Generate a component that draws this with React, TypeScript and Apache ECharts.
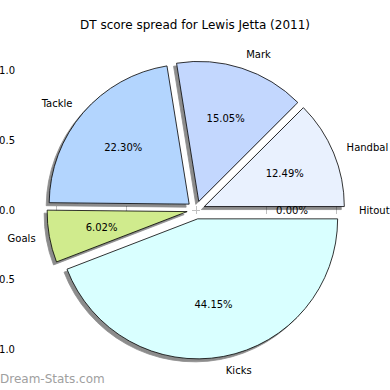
import React, { useEffect, useRef } from "react";
import * as echarts from "echarts";

const titleText = "DT score spread for Lewis Jetta (2011)";
const categories = ["Handbal", "Mark", "Tackle", "Goals", "Kicks", "Hitout"];
const values = [12.49, 15.05, 22.3, 6.02, 44.15, 0.0];
const sliceColors = ["#e9f1fe", "#c3d7fe", "#b3d5fe", "#d0eb8d", "#d9ffff", "#f0f0f0"];
const tickValues = [-1, -0.5, 0, 0.5, 1];

const FONT = "DejaVu Sans";

const fmtTick = (v: number) => {
  const s = Math.abs(v).toFixed(1);
  return v < 0 ? "\u2212" + s : s;
};

export default function App() {
  const ref = useRef<HTMLDivElement>(null);
  useEffect(() => {
    if (!ref.current) return;
    const chart = echarts.init(ref.current, null, { renderer: "svg" });

    const axisCommon = (pos: string, showLabel: boolean, isX: boolean) => ({
      type: "value",
      position: pos,
      min: isX ? -1.22 : -1.23,
      max: isX ? 1.22 : 1.23,
      axisLine: { show: false },
      splitLine: { show: false },
      axisTick: {
        show: true,
        inside: false,
        length: 4,
        lineStyle: { color: "#c0c0c0", width: 1 },
        customValues: tickValues,
      },
      axisLabel: {
        show: showLabel,
        customValues: tickValues,
        formatter: (v: number) => fmtTick(v),
        fontSize: 10,
        fontFamily: FONT,
        color: "#000",
        margin: isX ? 7 : 10,
      },
    });

    const mainData = categories.map((name, i) => ({
      name,
      value: values[i],
      selected: true,
      itemStyle: { color: sliceColors[i] },
    }));
    const labelData = categories.map((name, i) => ({
      name,
      value: values[i],
      selected: true,
    }));

    chart.setOption({
      animation: false,
      title: {
        text: titleText,
        left: "center",
        top: 19,
        padding: 0,
        textStyle: { fontSize: 12, fontWeight: "normal", color: "#000", fontFamily: FONT },
      },
      grid: {
        left: 25,
        right: 23,
        top: 38,
        bottom: 8,
        containLabel: false,
        outerBoundsMode: "none",
      },
      xAxis: [axisCommon("bottom", true, true), axisCommon("top", false, true)],
      yAxis: [axisCommon("left", true, false), axisCommon("right", false, false)],
      graphic: [
        {
          type: "text",
          left: 0,
          top: 373,
          style: {
            text: "Dream-Stats.com",
            fontSize: 12,
            fontFamily: FONT,
            fill: "#a0a0a0",
          },
        },
      ],
      series: [
        {
          type: "pie",
          center: [196, 210],
          radius: [0, 140],
          startAngle: 0,
          clockwise: false,
          selectedMode: "multiple",
          selectedOffset: 9,
          avoidLabelOverlap: false,
          minShowLabelAngle: 0,
          silent: true,
          emphasis: { disabled: true },
          itemStyle: {
            borderColor: "#000",
            borderWidth: 0.8,
            shadowBlur: 0,
            shadowOffsetX: -3,
            shadowOffsetY: 3,
            shadowColor: "rgba(0,0,0,0.45)",
          },
          select: {
            itemStyle: {
              borderColor: "#000",
              borderWidth: 0.8,
              shadowBlur: 0,
              shadowOffsetX: -3,
              shadowOffsetY: 3,
              shadowColor: "rgba(0,0,0,0.45)",
            },
          },
          label: {
            show: true,
            position: "outside",
            formatter: "{b}",
            fontSize: 10,
            fontFamily: FONT,
            color: "#000",
            distanceToLabelLine: 0,
          },
          labelLine: { show: false, length: 14, length2: 0 },
          data: mainData,
        },
        {
          type: "pie",
          center: [196, 210],
          radius: [28, 140],
          startAngle: 0,
          clockwise: false,
          selectedMode: "multiple",
          selectedOffset: 9,
          avoidLabelOverlap: false,
          minShowLabelAngle: 0,
          silent: true,
          emphasis: { disabled: true },
          itemStyle: { color: "rgba(0,0,0,0)", borderWidth: 0 },
          select: { itemStyle: { color: "rgba(0,0,0,0)", borderWidth: 0 } },
          label: {
            show: true,
            position: "inside",
            formatter: (p: any) => Number(p.value).toFixed(2) + "%",
            fontSize: 10,
            fontFamily: FONT,
            color: "#000",
          },
          labelLine: { show: false },
          data: labelData,
        },
      ],
    });
    return () => chart.dispose();
  }, []);
  return (
    <div
      ref={ref}
      style={{ position: "absolute", left: 0, top: 0, width: 390, height: 390 }}
    />
  );
}
